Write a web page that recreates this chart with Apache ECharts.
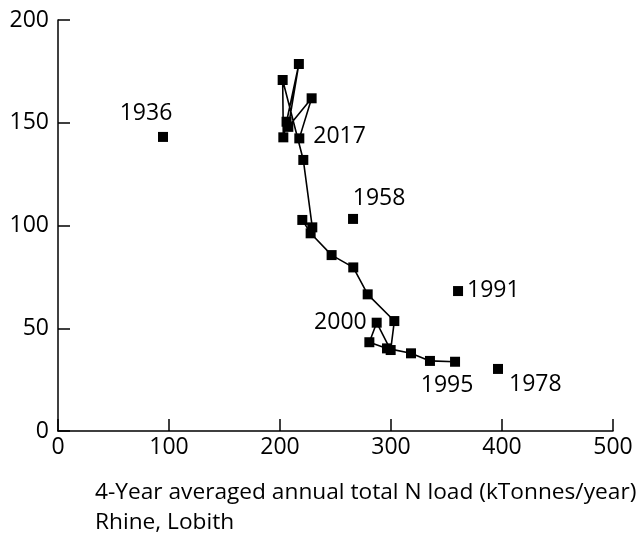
<!DOCTYPE html>
<html>
<head>
<meta charset="utf-8">
<script src="https://cdn.jsdelivr.net/npm/echarts@6/dist/echarts.min.js"></script>
<style>
  html, body { margin: 0; padding: 0; background: #fff; }
  #chart { width: 640px; height: 533px; }
</style>
</head>
<body>
<div id="chart"></div>
<script>
// isolated years
var singleYears = ['1936', '1958', '1991', '1978']
var singleLoad = [94.6, 265.8, 360.4, 396.4]
var singleConc = [143.1, 103.2, 68.1, 30.2]

// connected 4-year averages, 1995 -> 2017
var pathLoad = [357.7, 335.1, 318, 296.4, 280.5, 287.1, 299.7, 303, 279, 266, 246.5, 227.6, 220.1, 229.1, 221, 202.4, 203, 205.9, 217, 207.5, 228.5, 217.4]
var pathConc = [33.7, 34.1, 37.8, 40.2, 43.2, 52.7, 39.4, 53.5, 66.5, 79.6, 85.6, 96.2, 102.7, 99.1, 131.9, 170.8, 142.9, 150.5, 178.6, 148, 161.9, 142.4]
var pathNames = ['1995', '', '', '', '', '2000', '', '', '', '', '', '', '', '', '', '', '', '', '', '', '', '2017']

var xTicks = [0, 100, 200, 300, 400, 500]
var yTicks = [0, 50, 100, 150, 200]

// where each year label sits
var labelPlace = {
  '1936': { position: 'top', offset: [-17, -2] },
  '1958': { position: 'top', offset: [26, 1] },
  '1991': { position: 'right', offset: [-1, -1] },
  '1978': { position: 'right', offset: [1, 16] },
  '1995': { position: 'bottom', offset: [-8, 2] },
  '2000': { position: 'left', offset: [0, 0] },
  '2017': { position: 'right', offset: [4, -2] }
}

var font = 'Open Sans'
var fsize = 23

function makeItem (x, y, name) {
  var item = { value: [x, y], name: name }
  if (name) {
    item.label = {
      show: true,
      formatter: name,
      position: labelPlace[name].position,
      offset: labelPlace[name].offset,
      distance: 5,
      color: '#000',
      opacity: 1,
      fontFamily: font,
      fontSize: fsize
    }
  }
  return item
}

var singleData = singleYears.map(function (y, i) { return makeItem(singleLoad[i], singleConc[i], y) })
var pathData = pathLoad.map(function (x, i) { return makeItem(x, pathConc[i], pathNames[i]) })

var myChart = echarts.init(document.getElementById('chart'))

var axisCommon = {
  type: 'value',
  axisLine: { show: true, lineStyle: { color: '#000', width: 1.5 } },
  axisTick: { show: true, inside: true, length: 12, lineStyle: { color: '#000', width: 1.5 } },
  axisLabel: { color: '#000', fontFamily: font, fontSize: fsize },
  splitLine: { show: false }
}

var option = {
  backgroundColor: '#fff',
  animation: false,
  title: {
    text: '4-Year averaged annual total N load (kTonnes/year)\nRhine, Lobith',
    left: 95,
    top: 478,
    padding: 0,
    textStyle: { color: '#000', fontFamily: font, fontSize: 22.7, fontWeight: 'normal', lineHeight: 30 }
  },
  grid: { left: 58, right: 27, top: 20, bottom: 102 },
  xAxis: Object.assign({}, axisCommon, {
    min: xTicks[0],
    max: xTicks[xTicks.length - 1],
    interval: 100,
    axisLabel: Object.assign({}, axisCommon.axisLabel, { margin: 5 })
  }),
  yAxis: Object.assign({}, axisCommon, {
    min: yTicks[0],
    max: yTicks[yTicks.length - 1],
    interval: 50,
    axisLabel: Object.assign({}, axisCommon.axisLabel, { margin: 9 })
  }),
  series: [
    {
      type: 'line',
      data: pathData,
      symbol: 'rect',
      symbolSize: 10,
      showAllSymbol: true,
      lineStyle: { color: '#000', width: 1.6 },
      itemStyle: { color: '#000', opacity: 1 },
      label: { show: false }
    },
    {
      type: 'scatter',
      data: singleData,
      symbol: 'rect',
      symbolSize: 10,
      itemStyle: { color: '#000', opacity: 1 }
    }
  ]
}

myChart.setOption(option)
</script>
</body>
</html>
